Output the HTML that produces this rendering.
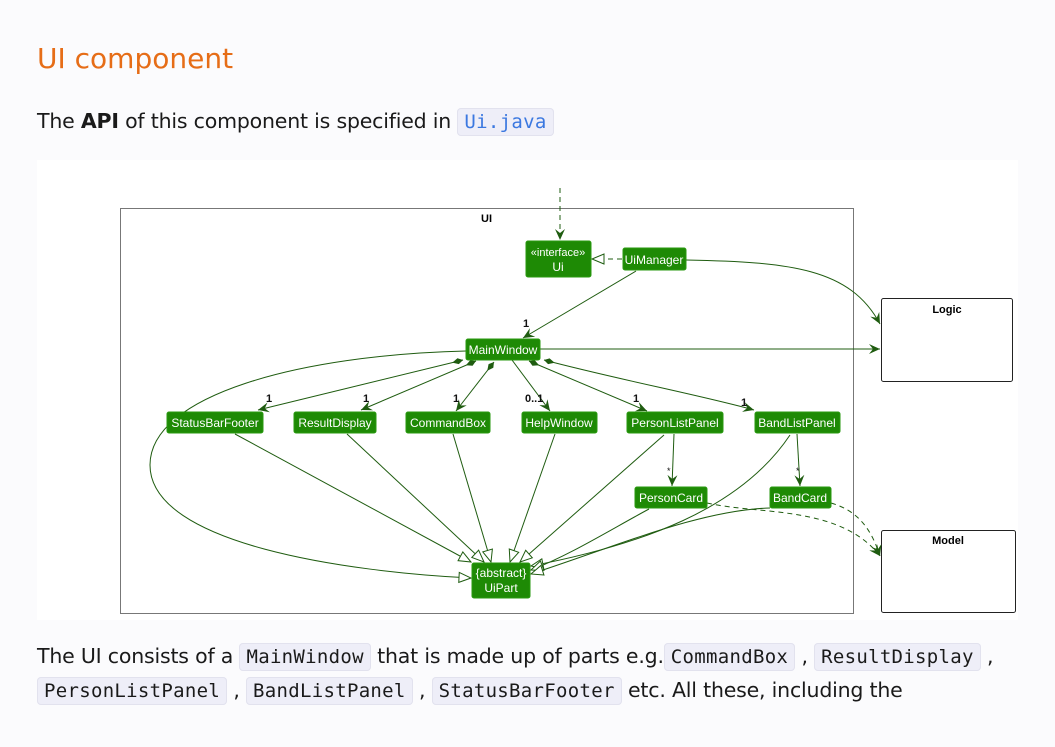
<!DOCTYPE html>
<html><head><meta charset="utf-8"><style>
body{margin:0;background:#fbfbfd;width:1055px;height:747px;overflow:hidden;font-family:"Liberation Sans",sans-serif;position:relative}
.t{position:absolute;font-family:"DejaVu Sans","Liberation Sans",sans-serif;color:#1a1a1a;font-size:20.5px;white-space:nowrap;letter-spacing:-0.2px}
code{font-family:"DejaVu Sans Mono","Liberation Mono",monospace;font-size:19px;letter-spacing:0.3px;background:#eeeef8;border:1px solid #e2e2ee;border-radius:4px;padding:2px 6px;color:#1a1a1a}
</style></head><body>
<div class="t" style="left:37px;top:42px;font-size:28px;color:#e66d17;letter-spacing:0">UI component</div>
<div class="t" style="left:37px;top:109px">The <b>API</b> of this component is specified in <code style="color:#3b78e0">Ui.java</code></div>
<div style="position:absolute;left:37px;top:160px;width:981px;height:460px;background:#fff"></div>
<svg style="position:absolute;left:0;top:0" width="1055" height="747" font-family="Liberation Sans, sans-serif">
<defs>
<marker id="a" markerWidth="12" markerHeight="10" refX="11" refY="5" orient="auto" markerUnits="userSpaceOnUse"><path d="M0,0 L11,5 L0,10 L4,5 z" fill="#1f5c10"/></marker>
<marker id="tri" markerWidth="14" markerHeight="12" refX="13" refY="6" orient="auto" markerUnits="userSpaceOnUse"><path d="M1,1 L13,6 L1,11 z" fill="#fff" stroke="#1f5c10"/></marker>
<marker id="d" markerWidth="14" markerHeight="8" refX="1" refY="4" orient="auto" markerUnits="userSpaceOnUse"><path d="M1,4 L6,1 L12,4 L6,7 z" fill="#1f5c10"/></marker>
</defs>
<rect x="120.5" y="208.5" width="733" height="405" fill="none" stroke="#777"/>
<text x="481" y="222" font-size="11" font-weight="bold">UI</text>
<rect x="881.5" y="298.5" width="131" height="83" rx="2" fill="#fff" stroke="#222"/>
<text x="947" y="313" font-size="11" font-weight="bold" text-anchor="middle">Logic</text>
<rect x="881.5" y="530.5" width="134" height="82" rx="2" fill="#fff" stroke="#222"/>
<text x="948" y="544" font-size="11" font-weight="bold" text-anchor="middle">Model</text>
<g fill="none" stroke="#1f5c10" stroke-width="1">
<path d="M560,188 L560,240" stroke-dasharray="5,4" marker-end="url(#a)"/>
<path d="M622,259 L592,259" stroke-dasharray="5,4" marker-end="url(#tri)"/>
<path d="M636,271 L523,338" marker-end="url(#a)"/>
<path d="M540,349 L880,349" marker-end="url(#a)"/>
<path d="M686,260 C790,262 850,268 880,324" marker-end="url(#a)"/>
<path d="M466,351 C300,355 150,395 150,465 C150,545 350,572 471,578" marker-end="url(#tri)"/>
<path d="M463,360 L258,410" marker-start="url(#d)" marker-end="url(#a)"/>
<path d="M476,361 L361,410" marker-start="url(#d)" marker-end="url(#a)"/>
<path d="M494,362 L456,411" marker-start="url(#d)" marker-end="url(#a)"/>
<path d="M512,360 L550,411" marker-end="url(#a)"/>
<path d="M529,361 L647,411" marker-start="url(#d)" marker-end="url(#a)"/>
<path d="M544,360 C620,380 700,395 754,410" marker-start="url(#d)" marker-end="url(#a)"/>
<path d="M674,434 L672,486" marker-end="url(#a)"/>
<path d="M797,434 L800,486" marker-end="url(#a)"/>
<path d="M235,434 L471,562" marker-end="url(#tri)"/>
<path d="M347,434 L484,562" marker-end="url(#tri)"/>
<path d="M453,434 L491,562" marker-end="url(#tri)"/>
<path d="M555,434 L510,562" marker-end="url(#tri)"/>
<path d="M664,435 L520,562" marker-end="url(#tri)"/>
<path d="M790,435 C740,510 640,545 531,566" marker-end="url(#tri)"/>
<path d="M649,509 C610,530 570,555 531,570" marker-end="url(#tri)"/>
<path d="M770,508 C700,510 620,545 531,574" marker-end="url(#tri)"/>
<path d="M707,503 C760,515 840,505 880,556" stroke-dasharray="5,4" marker-end="url(#a)"/>
<path d="M831,503 C855,510 870,525 880,556" stroke-dasharray="5,4" marker-end="url(#a)"/>
</g>
<g font-size="11" font-weight="bold" fill="#111">
<text x="523" y="327">1</text><text x="266" y="402">1</text><text x="363" y="402">1</text><text x="453" y="402">1</text>
<text x="525" y="402">0..1</text><text x="633" y="402">1</text><text x="741" y="406">1</text>
</g>
<g font-size="9" fill="#111"><text x="667" y="474">*</text><text x="796" y="474">*</text></g>
<g fill="#1e8a05" stroke="#2a9a10">
<rect x="526" y="241" width="65" height="36" rx="2"/>
<rect x="623" y="248" width="63" height="22" rx="2"/>
<rect x="466" y="339" width="74" height="21" rx="2"/>
<rect x="167" y="412" width="96" height="21" rx="2"/>
<rect x="294" y="412" width="82" height="21" rx="2"/>
<rect x="406" y="412" width="84" height="21" rx="2"/>
<rect x="522" y="412" width="75" height="21" rx="2"/>
<rect x="627" y="412" width="96" height="21" rx="2"/>
<rect x="755" y="412" width="85" height="21" rx="2"/>
<rect x="635" y="487" width="72" height="21" rx="2"/>
<rect x="770" y="487" width="61" height="21" rx="2"/>
<rect x="472" y="563" width="58" height="35" rx="2"/>
</g>
<g font-size="12" fill="#fff" text-anchor="middle">
<text x="558" y="256" font-size="11">«interface»</text><text x="558" y="271">Ui</text>
<text x="654" y="264">UiManager</text>
<text x="503" y="354">MainWindow</text>
<text x="215" y="427">StatusBarFooter</text>
<text x="335" y="427">ResultDisplay</text>
<text x="448" y="427">CommandBox</text>
<text x="559" y="427">HelpWindow</text>
<text x="675" y="427">PersonListPanel</text>
<text x="797" y="427">BandListPanel</text>
<text x="671" y="502">PersonCard</text>
<text x="800" y="502">BandCard</text>
<text x="501" y="577">{abstract}</text><text x="501" y="592">UiPart</text>
</g>
</svg>
<div class="t" style="left:37px;top:644px">The UI consists of a <code>MainWindow</code> that is made up of parts e.g.<code>CommandBox</code> , <code>ResultDisplay</code> ,</div>
<div class="t" style="left:37px;top:678px"><code>PersonListPanel</code> , <code>BandListPanel</code> , <code>StatusBarFooter</code> etc. All these, including the</div>
</body></html>
